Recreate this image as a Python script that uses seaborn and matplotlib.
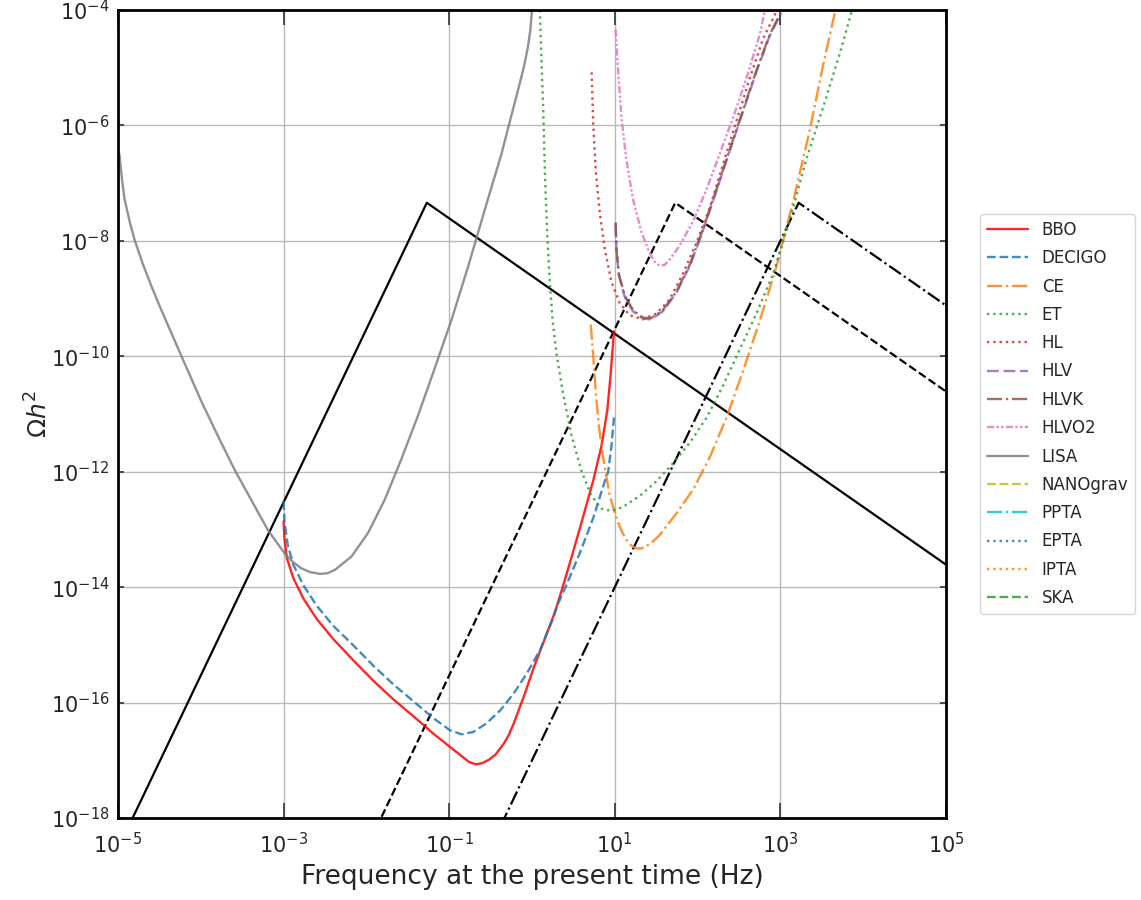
import numpy as np
import matplotlib
matplotlib.use("Agg")
import matplotlib.pyplot as plt
import seaborn as sns
from matplotlib.ticker import FixedLocator, LogFormatterMathtext, NullLocator

sns.set_style("whitegrid")
plt.rcParams["font.family"] = ["DejaVu Sans"]

# ====================== DATA (log10 values) ======================
# broken power-law spectra (peak + slopes 3 / -1)
pt_solid_logf = [-5.0, -1.27, 5.0]
pt_solid_logo = [-18.53, -7.34, -13.61]
pt_dash_logf = [-2.0, 1.73, 5.0]
pt_dash_logo = [-18.53, -7.34, -10.61]
pt_dashdot_logf = [-0.5, 3.22, 5.0]
pt_dashdot_logo = [-18.50, -7.34, -9.12]

bbo_logf = [-3.0, -2.99, -2.96, -2.88, -2.76, -2.60, -2.40, -2.15, -1.91, -1.67, -1.43,
            -1.19, -0.99, -0.90, -0.83, -0.76, -0.68, -0.60, -0.52, -0.44, -0.34, -0.28,
            -0.22, -0.10, 0.02, 0.14, 0.26, 0.31, 0.36, 0.48, 0.60, 0.74, 0.84, 0.91,
            0.95, 0.98, 0.99]
bbo_logo = [-12.86, -13.15, -13.50, -13.85, -14.20, -14.55, -14.90, -15.28, -15.63, -15.95, -16.24,
            -16.54, -16.77, -16.87, -16.95, -17.03, -17.07, -17.05, -16.99, -16.90, -16.71, -16.56,
            -16.36, -15.90, -15.40, -14.95, -14.50, -14.28, -14.05, -13.47, -12.87, -12.15, -11.55,
            -10.93, -10.31, -9.76, -9.57]

decigo_logf = [-3.0, -2.99, -2.95, -2.88, -2.76, -2.60, -2.40, -2.15, -1.91, -1.67, -1.43,
               -1.19, -0.99, -0.85, -0.71, -0.55, -0.38, -0.22, -0.06, 0.10, 0.26, 0.31,
               0.42, 0.58, 0.74, 0.88, 0.92, 0.96, 0.99]
decigo_logo = [-12.51, -12.86, -13.27, -13.62, -13.97, -14.32, -14.67, -15.02, -15.37, -15.69, -15.98,
               -16.27, -16.48, -16.55, -16.51, -16.36, -16.13, -15.84, -15.49, -15.08, -14.52, -14.30,
               -13.95, -13.40, -12.80, -12.16, -12.0, -11.55, -11.06]

ce_logf = [0.71, 0.74, 0.77, 0.81, 0.87, 0.94, 1.03, 1.09, 1.14, 1.20, 1.26, 1.32, 1.38,
           1.46, 1.54, 1.74, 1.95, 2.15, 2.35, 2.55, 2.75, 2.95, 3.15, 3.35, 3.52, 3.66]
ce_logo = [-9.45, -10.0, -10.63, -11.24, -11.86, -12.42, -12.85, -13.05, -13.18, -13.28, -13.33,
           -13.33, -13.29, -13.21, -13.10, -12.73, -12.30, -11.74, -11.06, -10.25, -9.39, -8.46,
           -7.34, -6.11, -4.93, -4.03]

et_logf = [0.095, 0.115, 0.135, 0.16, 0.185, 0.215, 0.25, 0.30, 0.376, 0.477, 0.598, 0.718,
           0.839, 0.96, 1.10, 1.30, 1.50, 1.70, 1.91, 2.11, 2.31, 2.51, 2.71, 2.91, 3.11,
           3.31, 3.52, 3.72, 3.86]
et_logo = [-4.0, -4.9, -5.7, -7.0, -7.9, -8.7, -9.4, -10.0, -10.65, -11.37, -11.99, -12.42,
           -12.64, -12.68, -12.61, -12.42, -12.17, -11.86, -11.49, -11.06, -10.50, -9.88, -9.26,
           -8.58, -7.65, -6.60, -5.67, -4.74, -4.03]

hl_logf = [0.72, 0.74, 0.77, 0.82, 0.88, 0.96, 1.06, 1.18, 1.34, 1.50, 1.66, 1.82, 1.99,
           2.15, 2.31, 2.47, 2.63, 2.79, 2.95]
hl_logo = [-5.08, -5.98, -6.79, -7.53, -8.15, -8.71, -9.08, -9.29, -9.36, -9.26, -9.02, -8.58,
           -8.02, -7.41, -6.66, -5.92, -5.18, -4.50, -4.03]

hlv_logf = [1.01, 1.02, 1.05, 1.12, 1.22, 1.34, 1.44, 1.58, 1.74, 1.91, 2.07, 2.23, 2.39,
            2.55, 2.71, 2.87, 3.01]
hlv_logo = [-7.70, -8.17, -8.60, -8.97, -9.22, -9.35, -9.36, -9.22, -8.91, -8.42, -7.80, -7.12,
            -6.43, -5.75, -5.07, -4.45, -4.05]

hlvk_logf = [1.01, 1.02, 1.05, 1.12, 1.22, 1.34, 1.44, 1.58, 1.74, 1.91, 2.07, 2.23, 2.39,
             2.55, 2.71, 2.87, 3.01]
hlvk_logo = [-7.68, -8.15, -8.58, -8.95, -9.20, -9.33, -9.34, -9.20, -8.89, -8.40, -7.78, -7.10,
             -6.41, -5.73, -5.05, -4.43, -4.03]

hlvo2_logf = [1.01, 1.04, 1.08, 1.14, 1.22, 1.32, 1.42, 1.48, 1.54, 1.60, 1.66, 1.78, 1.95,
              2.11, 2.27, 2.43, 2.59, 2.75, 2.81]
hlvo2_logo = [-4.34, -5.05, -5.86, -6.60, -7.28, -7.84, -8.21, -8.36, -8.43, -8.42, -8.33, -8.09,
              -7.65, -7.10, -6.48, -5.86, -5.18, -4.43, -4.03]

lisa_logf = [-5.0, -4.98, -4.95, -4.92, -4.86, -4.80, -4.70, -4.60, -4.50, -4.40, -4.19, -3.99,
             -3.79, -3.59, -3.39, -3.19, -2.99, -2.89, -2.79, -2.68, -2.56, -2.47, -2.38,
             -2.18, -1.98, -1.78, -1.58, -1.38, -1.18, -0.97, -0.77, -0.57, -0.37, -0.28,
             -0.18, -0.10, -0.05, -0.02, 0.0]
lisa_logo = [-6.40, -6.53, -6.95, -7.28, -7.66, -7.98, -8.40, -8.77, -9.12, -9.45, -10.14, -10.79,
             -11.39, -11.97, -12.49, -13.01, -13.41, -13.56, -13.67, -13.74, -13.77, -13.76, -13.70,
             -13.47, -13.06, -12.49, -11.79, -11.04, -10.23, -9.36, -8.44, -7.46, -6.50, -6.0,
             -5.45, -5.0, -4.65, -4.35, -4.0]

# pulsar timing arrays sit at nHz frequencies, outside the plotted window
nanograv_logf = [-8.5, -8.0, -7.5]
nanograv_logo = [-9.0, -9.6, -8.5]
ppta_logf = [-8.5, -8.0, -7.5]
ppta_logo = [-8.7, -9.3, -8.2]
epta_logf = [-8.5, -8.0, -7.5]
epta_logo = [-8.8, -9.4, -8.3]
ipta_logf = [-8.5, -8.0, -7.5]
ipta_logo = [-9.3, -9.9, -8.8]
ska_logf = [-8.5, -8.0, -7.5]
ska_logo = [-12.0, -12.8, -11.8]

# (label, logf, logomega, colour, linestyle)
detectors = [
    ("BBO", bbo_logf, bbo_logo, "red", "-"),
    ("DECIGO", decigo_logf, decigo_logo, "tab:blue", "--"),
    ("CE", ce_logf, ce_logo, "tab:orange", "-."),
    ("ET", et_logf, et_logo, "tab:green", ":"),
    ("HL", hl_logf, hl_logo, "tab:red", ":"),
    ("HLV", hlv_logf, hlv_logo, "tab:purple", (0, (5, 2))),
    ("HLVK", hlvk_logf, hlvk_logo, "tab:brown", "-."),
    ("HLVO2", hlvo2_logf, hlvo2_logo, "tab:pink", (0, (3, 1, 1, 1, 1, 1))),
    ("LISA", lisa_logf, lisa_logo, "tab:gray", "-"),
    ("NANOgrav", nanograv_logf, nanograv_logo, "tab:olive", "--"),
    ("PPTA", ppta_logf, ppta_logo, "tab:cyan", "-."),
    ("EPTA", epta_logf, epta_logo, "tab:blue", ":"),
    ("IPTA", ipta_logf, ipta_logo, "tab:orange", ":"),
    ("SKA", ska_logf, ska_logo, "tab:green", "--"),
]

signals = [
    (pt_solid_logf, pt_solid_logo, "-"),
    (pt_dash_logf, pt_dash_logo, "--"),
    (pt_dashdot_logf, pt_dashdot_logo, "-."),
]


def main():
    fig = plt.figure(figsize=(11.41, 9.0), dpi=100)
    ax = fig.add_axes([0.1034, 0.0911, 0.7257, 0.8978])
    ax.set_xscale("log")
    ax.set_yscale("log")

    for logf, logo, ls in signals:
        sns.lineplot(x=10.0 ** np.array(logf), y=10.0 ** np.array(logo), ax=ax,
                     color="black", linestyle=ls, linewidth=1.6, sort=False,
                     estimator=None, legend=False)

    for name, logf, logo, col, ls in detectors:
        sns.lineplot(x=10.0 ** np.array(logf), y=10.0 ** np.array(logo), ax=ax,
                     color=col, linestyle=ls, linewidth=1.7, alpha=0.85, sort=False,
                     estimator=None, label=name)

    ax.set_xlim(1e-5, 1e5)
    ax.set_ylim(1e-18, 1e-4)
    ax.xaxis.set_major_locator(FixedLocator([10.0 ** k for k in range(-5, 6, 2)]))
    ax.yaxis.set_major_locator(FixedLocator([10.0 ** k for k in range(-18, -3, 2)]))
    ax.xaxis.set_major_formatter(LogFormatterMathtext())
    ax.yaxis.set_major_formatter(LogFormatterMathtext())
    ax.xaxis.set_minor_locator(NullLocator())
    ax.yaxis.set_minor_locator(NullLocator())

    ax.grid(True, color="#b8b8b8", linewidth=1.0)
    for sp in ax.spines.values():
        sp.set_color("black")
        sp.set_linewidth(2.0)
    ax.tick_params(axis="x", which="major", direction="in", length=11, width=1.2,
                   color="#333333", top=True, bottom=True, labelsize=15, pad=10)
    ax.tick_params(axis="y", which="major", direction="in", length=4.5, width=1.2,
                   color="#333333", left=True, right=True, labelsize=15, pad=6)

    ax.set_xlabel("Frequency at the present time (Hz)", fontsize=19, labelpad=5)
    ax.set_ylabel(r"$\Omega h^2$", fontsize=18, labelpad=-1)

    leg = ax.legend(loc="center left", bbox_to_anchor=(1.031, 0.5), fontsize=12,
                    handlelength=2.5, labelspacing=0.62, frameon=True)
    leg.get_frame().set_edgecolor("#cccccc")

    fig.savefig("out.png", dpi=100)
    plt.close(fig)


if __name__ == "__main__":
    main()
